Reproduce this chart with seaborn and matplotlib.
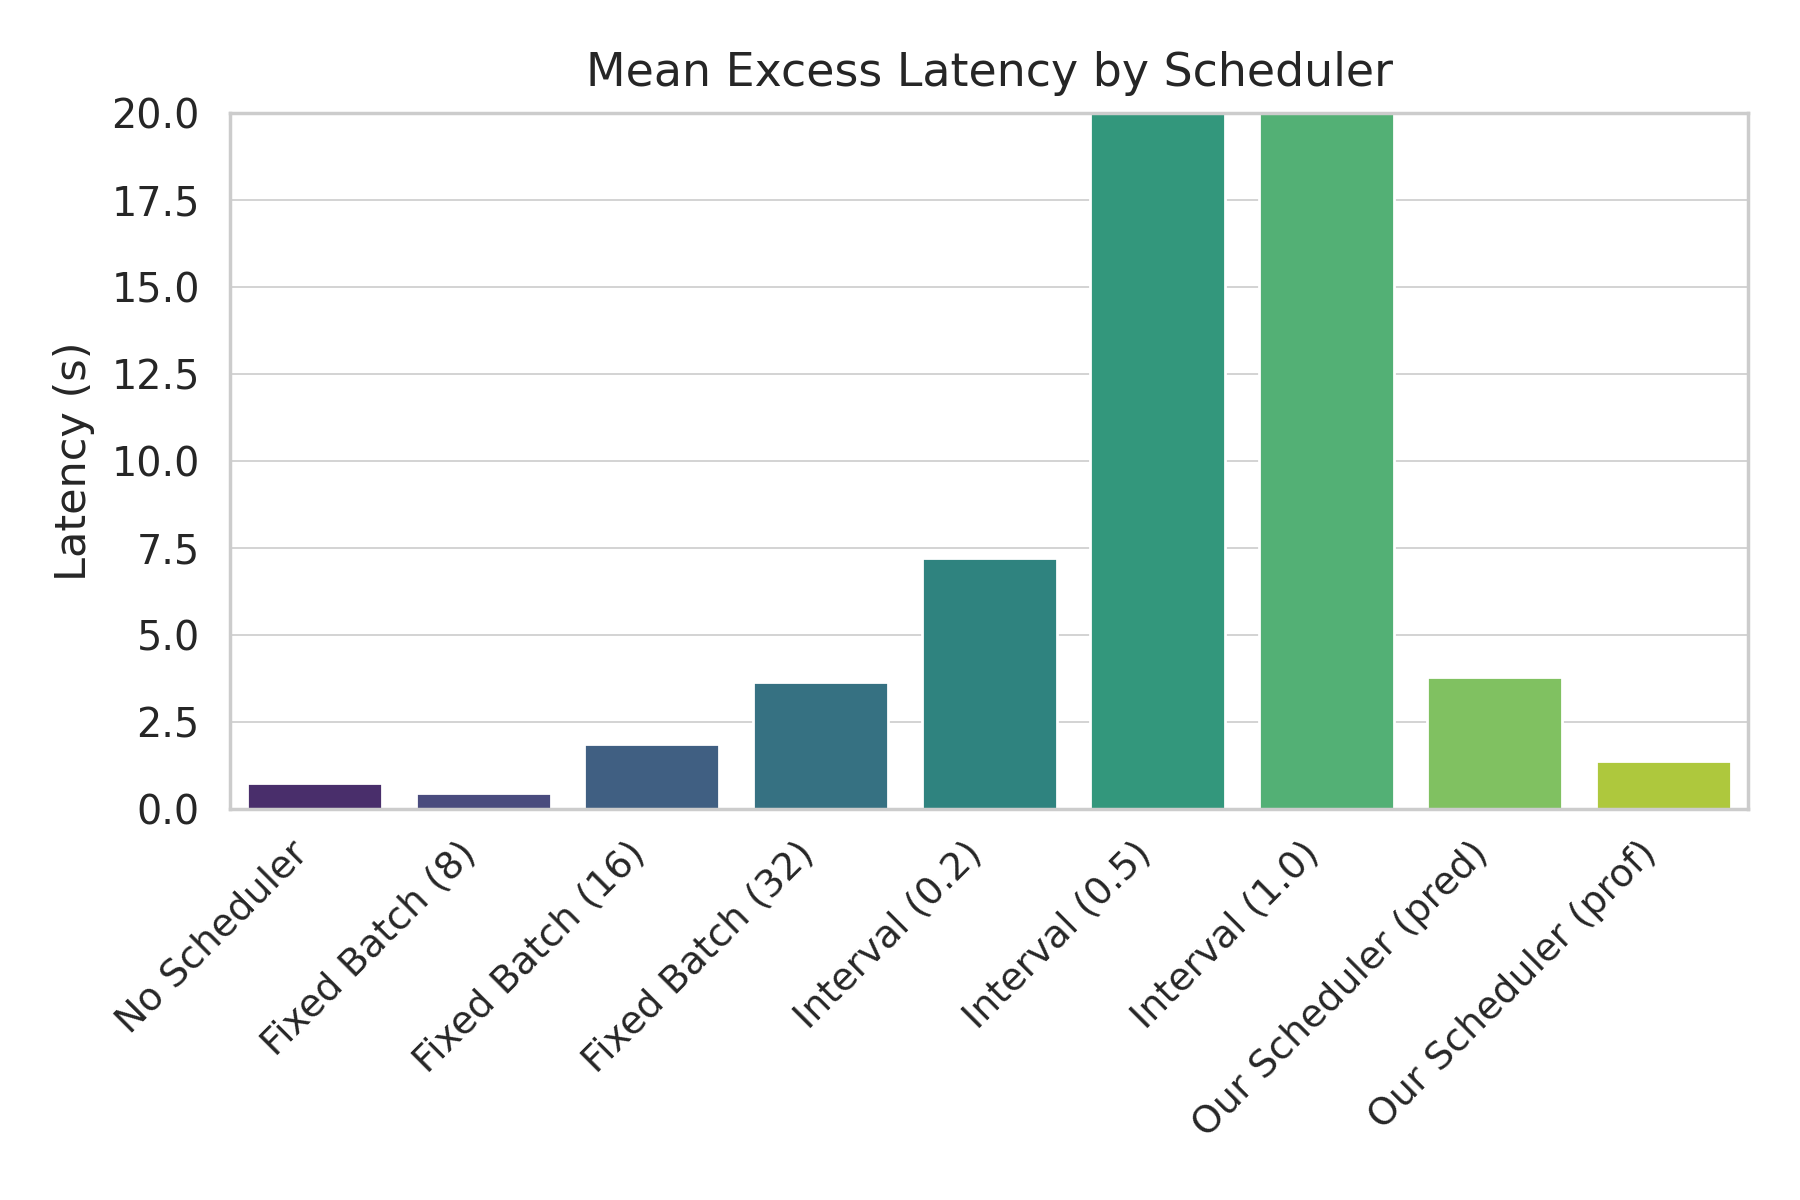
import matplotlib
matplotlib.use("Agg")
import matplotlib.pyplot as plt
import seaborn as sns
import pandas as pd

schedulers = ["No Scheduler", "Fixed Batch (8)", "Fixed Batch (16)", "Fixed Batch (32)",
              "Interval (0.2)", "Interval (0.5)", "Interval (1.0)",
              "Our Scheduler (pred)", "Our Scheduler (prof)"]
latency = [0.73, 0.46, 1.87, 3.63, 7.22, 35.0, 60.0, 3.80, 1.36]

df = pd.DataFrame({"Scheduler": schedulers, "Latency": latency})

sns.set_theme(style="whitegrid", rc={"grid.linewidth": 0.6})
plt.rcParams['font.family'] = ['DejaVu Sans']

fig, ax = plt.subplots(figsize=(9, 6), dpi=200)
sns.barplot(data=df, x="Scheduler", y="Latency", hue="Scheduler",
            palette="viridis", legend=False, ax=ax)
ax.set_ylim(0, 20)
ax.set_title("Mean Excess Latency by Scheduler", fontsize=16.5, pad=9.5)
ax.set_ylabel("Latency (s)", fontsize=15.5, labelpad=6)
ax.set_xlabel("")
ax.tick_params(axis="x", labelsize=13.7)
ax.tick_params(axis="y", labelsize=14.3, pad=5)
plt.setp(ax.get_xticklabels(), rotation=45, ha="right")
fig.subplots_adjust(left=0.128, right=0.971, top=0.906, bottom=0.326)
fig.savefig("out.png", dpi=200)
